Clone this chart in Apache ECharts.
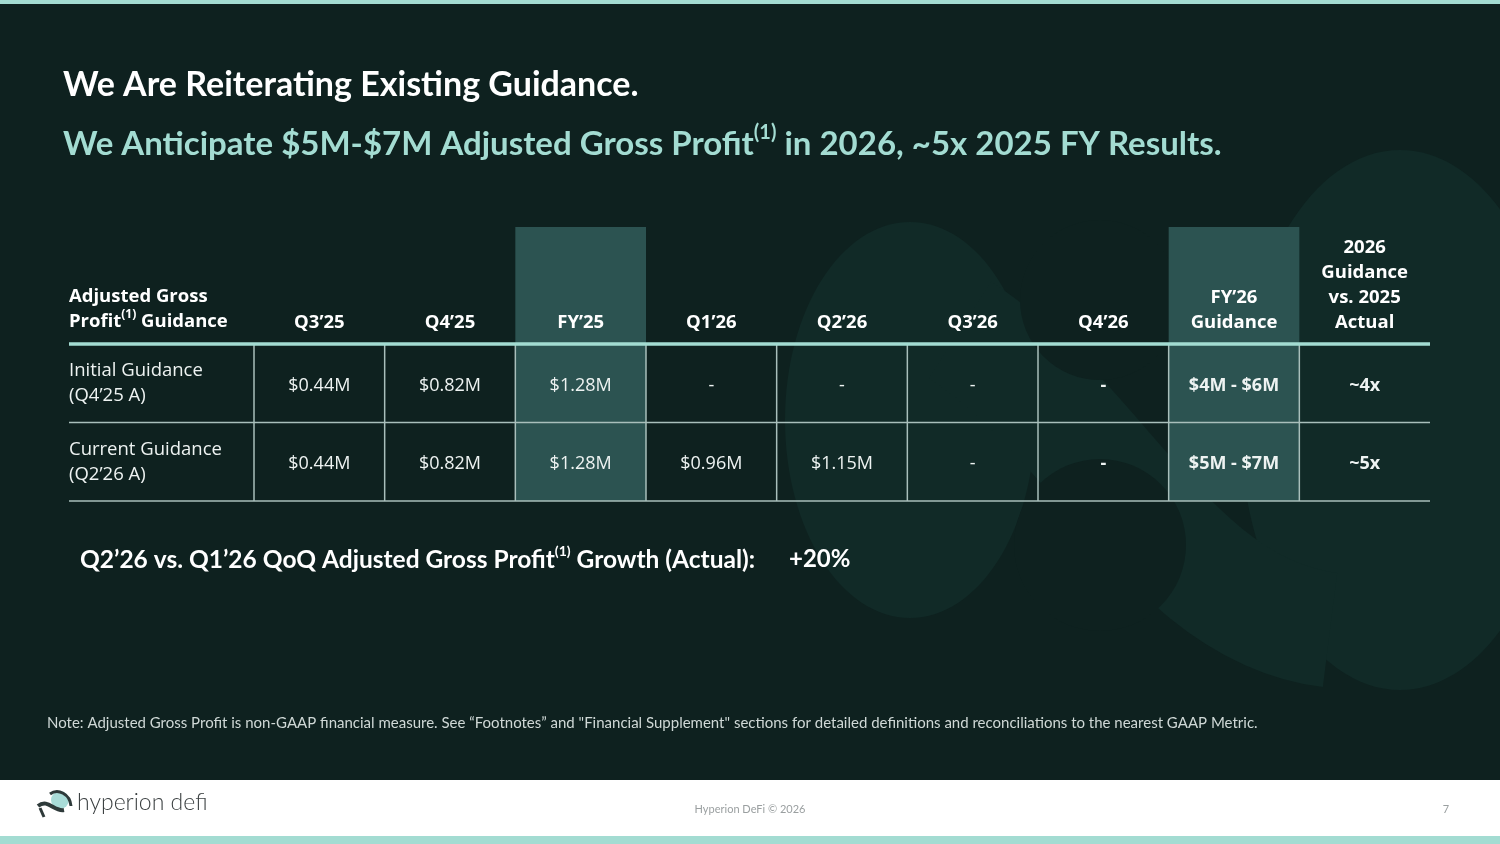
<!DOCTYPE html>
<html lang="en">
<head>
  <meta charset="UTF-8" />
  <title>Guidance</title>
  <style>
    * { padding: 0; margin: 0; }
    html, body { width: 100%; height: 100%; background: #0e211f; }
    #chart { width: 1500px; height: 844px; }
  </style>
</head>
<body>
  <div id="chart"></div>
  <script src="https://cdn.jsdelivr.net/npm/echarts@6/dist/echarts.min.js"></script>
  <script>
    // table content
    var columns = ['Q3\u201925', 'Q4\u201925', 'FY\u201925', 'Q1\u201926', 'Q2\u201926', 'Q3\u201926', 'Q4\u201926', 'FY\u201926\nGuidance', '2026\nGuidance\nvs. 2025\nActual']
    var rows = ['Initial Guidance\n(Q4\u201925 A)', 'Current Guidance\n(Q2\u201926 A)']
    var initialGuidance = ['$0.44M', '$0.82M', '$1.28M', '-', '-', '-', '-', '$4M - $6M', '~4x']
    var currentGuidance = ['$0.44M', '$0.82M', '$1.28M', '$0.96M', '$1.15M', '-', '-', '$5M - $7M', '~5x']
    var highlightColumns = ['FY\u201925', 'FY\u201926\nGuidance']
    var boldColumns = ['Q4\u201926', 'FY\u201926\nGuidance', '2026\nGuidance\nvs. 2025\nActual']
    var growthLabel = 'Q2\u201926 vs. Q1\u201926 QoQ Adjusted Gross Profit{sup|(1)} Growth (Actual):'
    var growthValue = '+20%'

    var FONT = 'Lato, "Open Sans", sans-serif'
    var TFONT = '"Open Sans", sans-serif'
    var BG = '#0e211f'
    var SHAPE = '#112a27'
    var HILITE = '#2c5351'
    var TEAL = '#a3dcd2'
    var GRIDLINE = '#a9bfbb'
    var STUB_W = 185
    var HEAD_H = 117

    var rowValues = [initialGuidance, currentGuidance]
    var cells = []
    rowValues.forEach(function (vals, r) {
      vals.forEach(function (v, c) {
        cells.push([c, r, v])
      })
    })

    var chart = echarts.init(document.getElementById('chart'))

    function renderCell(params, api) {
      var col = api.value(0)
      var row = api.value(1)
      var text = cells[params.dataIndex][2]
      var c = api.coord([col, row])
      var s = api.size([1, 1])
      var x0 = c[0] - s[0] / 2
      var y0 = c[1] - s[1] / 2
      var kids = []
      var name = columns[col]
      if (highlightColumns.indexOf(name) >= 0) {
        var top = row === 0 ? y0 - HEAD_H : y0
        kids.push({
          type: 'rect', z2: 0,
          shape: { x: x0, y: top, width: s[0], height: y0 + s[1] - top },
          style: { fill: HILITE }
        })
      }
      kids.push({
        type: 'line', z2: 5,
        shape: { x1: x0, y1: y0, x2: x0, y2: y0 + s[1] },
        style: { stroke: GRIDLINE, lineWidth: 1.5 }
      })
      if (col === 0) {
        var last = api.coord([columns.length - 1, row])
        var xr = last[0] + s[0] / 2
        kids.push({
          type: 'line', z2: 5,
          shape: { x1: x0 - STUB_W, y1: y0 + s[1], x2: xr, y2: y0 + s[1] },
          style: { stroke: GRIDLINE, lineWidth: 1.5 }
        })
        if (row === 0) {
          kids.push({
            type: 'line', z2: 6,
            shape: { x1: x0 - STUB_W, y1: y0, x2: xr, y2: y0 },
            style: { stroke: TEAL, lineWidth: 3.5 }
          })
        }
      }
      var bold = boldColumns.indexOf(name) >= 0
      kids.push({
        type: 'text', z2: 10,
        style: {
          text: text, x: c[0], y: c[1] + 2.5, align: 'center', verticalAlign: 'middle',
          fill: '#eef3f2', fontFamily: TFONT, fontSize: 18,
          fontWeight: bold ? 'bold' : 'normal'
        }
      })
      return { type: 'group', children: kids }
    }

    var bgShapes = [
      { type: 'ellipse', z: -10, shape: { cx: 910, cy: 420, rx: 125, ry: 198 }, style: { fill: SHAPE } },
      { type: 'ellipse', z: -10, shape: { cx: 1400, cy: 420, rx: 160, ry: 270 }, style: { fill: SHAPE } },
      {
        type: 'bezierCurve', z: -10,
        shape: { x1: 960, y1: 330, cpx1: 1100, cpy1: 420, cpx2: 1170, cpy2: 610, x2: 1330, y2: 630 },
        style: { stroke: SHAPE, lineWidth: 115, fill: null }
      },
      { type: 'circle', z: -9, shape: { cx: 1100, cy: 300, r: 80 }, style: { fill: BG } },
      { type: 'circle', z: -9, shape: { cx: 1100, cy: 545, r: 86 }, style: { fill: BG } }
    ]

    var texts = [
      {
        type: 'text', left: 63, top: 68,
        style: { text: 'We Are Reiterating Existing Guidance.', fill: '#ffffff', fontFamily: FONT, fontSize: 34, fontWeight: 'bold' }
      },
      {
        type: 'text', left: 63, top: 123,
        style: {
          text: 'We Anticipate $5M-$7M Adjusted Gross Profit{sup|(1)} in 2026, ~5x 2025 FY Results.',
          fill: TEAL, fontFamily: FONT, fontSize: 33, fontWeight: 'bold', lineHeight: 42,
          rich: { sup: { fontSize: 20, fontWeight: 'bold', fill: TEAL, fontFamily: FONT, lineHeight: 24, verticalAlign: 'top' } }
        }
      },
      {
        type: 'text', left: 69, top: 284,
        style: {
          text: 'Adjusted Gross\nProfit{sup|(1)} Guidance',
          fill: '#ffffff', fontFamily: TFONT, fontSize: 18.5, fontWeight: 'bold', lineHeight: 25,
          rich: { sup: { fontSize: 12, fontWeight: 'bold', fill: '#ffffff', fontFamily: TFONT, lineHeight: 14, verticalAlign: 'top' } }
        }
      },
      {
        type: 'text', left: 80, top: 544,
        style: {
          text: growthLabel, fill: '#ffffff', fontFamily: FONT, fontSize: 24.5, fontWeight: 'bold', lineHeight: 32,
          rich: { sup: { fontSize: 14, fontWeight: 'bold', fill: '#ffffff', fontFamily: FONT, lineHeight: 17, verticalAlign: 'top' } }
        }
      },
      {
        type: 'text', left: 789, top: 547,
        style: { text: growthValue, fill: '#ffffff', fontFamily: FONT, fontSize: 24, fontWeight: 'bold' }
      },
      {
        type: 'text', left: 47, top: 716,
        style: {
          text: 'Note: Adjusted Gross Profit is non-GAAP financial measure. See \u201cFootnotes\u201d and "Financial Supplement" sections for detailed definitions and reconciliations to the nearest GAAP Metric.',
          fill: '#cfd8d6', fontFamily: FONT, fontSize: 15
        }
      }
    ]

    var frame = [
      { type: 'rect', shape: { x: 0, y: 0, width: 1500, height: 4 }, style: { fill: TEAL } },
      { type: 'rect', shape: { x: 0, y: 780, width: 1500, height: 56 }, style: { fill: '#ffffff' } },
      { type: 'rect', shape: { x: 0, y: 836, width: 1500, height: 8 }, style: { fill: TEAL } },
      // logo mark
      { type: 'circle', shape: { cx: 60, cy: 800, r: 9 }, style: { fill: '#a9dcd8' } },
      {
        type: 'bezierCurve',
        shape: { x1: 38, y1: 806, cpx1: 48, cpy1: 798, cpx2: 54, cpy2: 812, x2: 64, y2: 810 },
        style: { stroke: '#2e3a3a', lineWidth: 4, fill: null }
      },
      {
        type: 'bezierCurve',
        shape: { x1: 50, y1: 794, cpx1: 58, cpy1: 788, cpx2: 70, cpy2: 794, x2: 71, y2: 806 },
        style: { stroke: '#2e3a3a', lineWidth: 3, fill: null }
      },
      { type: 'line', shape: { x1: 40, y1: 808, x2: 44, y2: 817 }, style: { stroke: '#2e3a3a', lineWidth: 3 } },
      {
        type: 'text', left: 77, top: 791,
        style: { text: 'hyperion defi', fill: '#3a3f40', fontFamily: FONT, fontSize: 23, fontWeight: 300 }
      },
      {
        type: 'text', x: 750, y: 809,
        style: { text: 'Hyperion DeFi \u00a9 2026', fill: '#9a9fa0', fontFamily: FONT, fontSize: 11, align: 'center', verticalAlign: 'middle' }
      },
      {
        type: 'text', x: 1446, y: 809,
        style: { text: '7', fill: '#9a9fa0', fontFamily: FONT, fontSize: 11, align: 'center', verticalAlign: 'middle' }
      }
    ]

    var option = {
      backgroundColor: BG,
      animation: false,
      graphic: bgShapes.concat(texts).concat(frame),
      grid: { left: 254, right: 70, top: 344, bottom: 343, containLabel: false },
      xAxis: {
        type: 'category',
        position: 'top',
        z: 10,
        data: columns,
        axisLine: { show: false },
        axisTick: { show: false },
        splitLine: { show: false },
        axisLabel: {
          interval: 0, margin: 9, color: '#ffffff', fontFamily: TFONT,
          fontSize: 18.5, fontWeight: 'bold', lineHeight: 25, align: 'center'
        }
      },
      yAxis: {
        type: 'category',
        inverse: true,
        z: 10,
        data: rows,
        axisLine: { show: false },
        axisTick: { show: false },
        splitLine: { show: false },
        axisLabel: {
          interval: 0, margin: STUB_W, align: 'left', color: '#eef3f2',
          fontFamily: TFONT, fontSize: 18.5, lineHeight: 25, padding: [4, 0, 0, 0]
        }
      },
      series: [{
        type: 'custom',
        clip: false,
        z: 2,
        data: cells,
        encode: { x: 0, y: 1 },
        renderItem: renderCell
      }]
    }
    chart.setOption(option)
  </script>
</body>
</html>
